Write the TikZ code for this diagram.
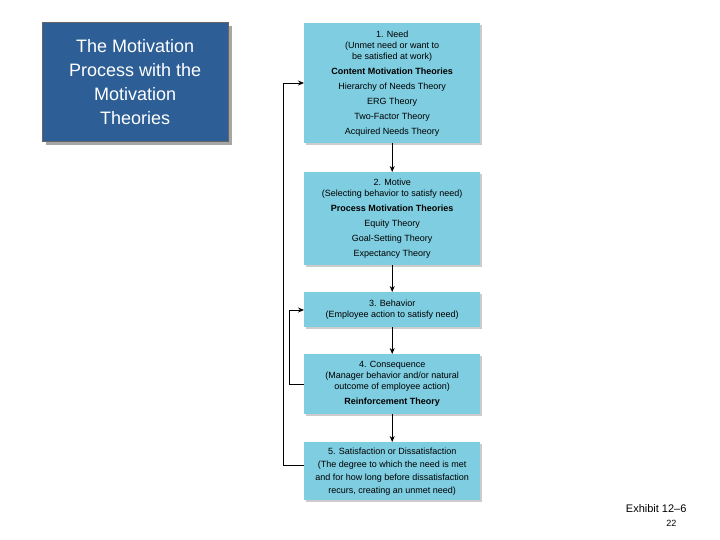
\documentclass[tikz,border=0pt]{standalone}
\usepackage{fontspec}
\setmainfont{Liberation Sans}
\usetikzlibrary{arrows.meta,shadows}
\begin{document}
\begin{tikzpicture}[x=1pt,y=-1pt,
  box/.style={fill=boxc,draw=none,align=center,inner sep=0pt,font=\fontsize{9}{15}\selectfont,
    drop shadow={shadow xshift=2pt,shadow yshift=-2pt,fill=black!20,opacity=1}},
  arr/.style={-{Stealth[length=6pt,width=5pt]},line width=0.8pt}]
\definecolor{boxc}{HTML}{7ECDE0}
\definecolor{titc}{HTML}{2D5F96}
\useasboundingbox (0,0) rectangle (720,540);
\node[fill=titc,draw=black!60,minimum width=186,minimum height=119,anchor=north west,
  text=white,align=center,font=\fontsize{18}{24}\selectfont,
  drop shadow={shadow xshift=4pt,shadow yshift=-4pt,fill=black!35,opacity=1}]
  (title) at (42,22) {The Motivation\\Process with the\\Motivation\\Theories};
\node[box,minimum width=176,minimum height=120,anchor=north west] (b1) at (304,23)
  {1. Need\\[-4pt](Unmet need or want to\\[-4pt]be satisfied at work)\\\textbf{Content Motivation Theories}\\Hierarchy of Needs Theory\\ERG Theory\\Two-Factor Theory\\Acquired Needs Theory};
\node[box,minimum width=176,minimum height=93,anchor=north west] (b2) at (304,172)
  {2. Motive\\[-4pt](Selecting behavior to satisfy need)\\\textbf{Process Motivation Theories}\\Equity Theory\\Goal-Setting Theory\\Expectancy Theory};
\node[box,minimum width=176,minimum height=35,anchor=north west] (b3) at (304,292)
  {3. Behavior\\[-4pt](Employee action to satisfy need)};
\node[box,minimum width=176,minimum height=60,anchor=north west] (b4) at (304,354)
  {4. Consequence\\[-4pt](Manager behavior and/or natural\\[-4pt]outcome of employee action)\\\textbf{Reinforcement Theory}};
\node[box,minimum width=176,minimum height=58,anchor=north west,font=\fontsize{9}{13}\selectfont] (b5) at (304,442)
  {5. Satisfaction or Dissatisfaction\\(The degree to which the need is met\\and for how long before dissatisfaction\\recurs, creating an unmet need)};
\draw[arr] (b1) -- (b2);
\draw[arr] (b2) -- (b3);
\draw[arr] (b3) -- (b4);
\draw[arr] (b4) -- (b5);
\coordinate (l1) at (283,465);
\coordinate (l2) at (283,83);
\draw[arr] (b5.west |- l1) -- (l1) -- (l2) -- (b1.west |- l2);
\coordinate (m1) at (289,384);
\coordinate (m2) at (289,310);
\draw[arr] (b4.west |- m1) -- (m1) -- (m2) -- (b3.west |- m2);
\node[anchor=east,font=\fontsize{11}{13}\selectfont] (ex) at (690,509) {Exhibit 12–6};
\node[anchor=east,font=\fontsize{9}{11}\selectfont] (pg) at (680,523) {22};
\end{tikzpicture}
\end{document}
